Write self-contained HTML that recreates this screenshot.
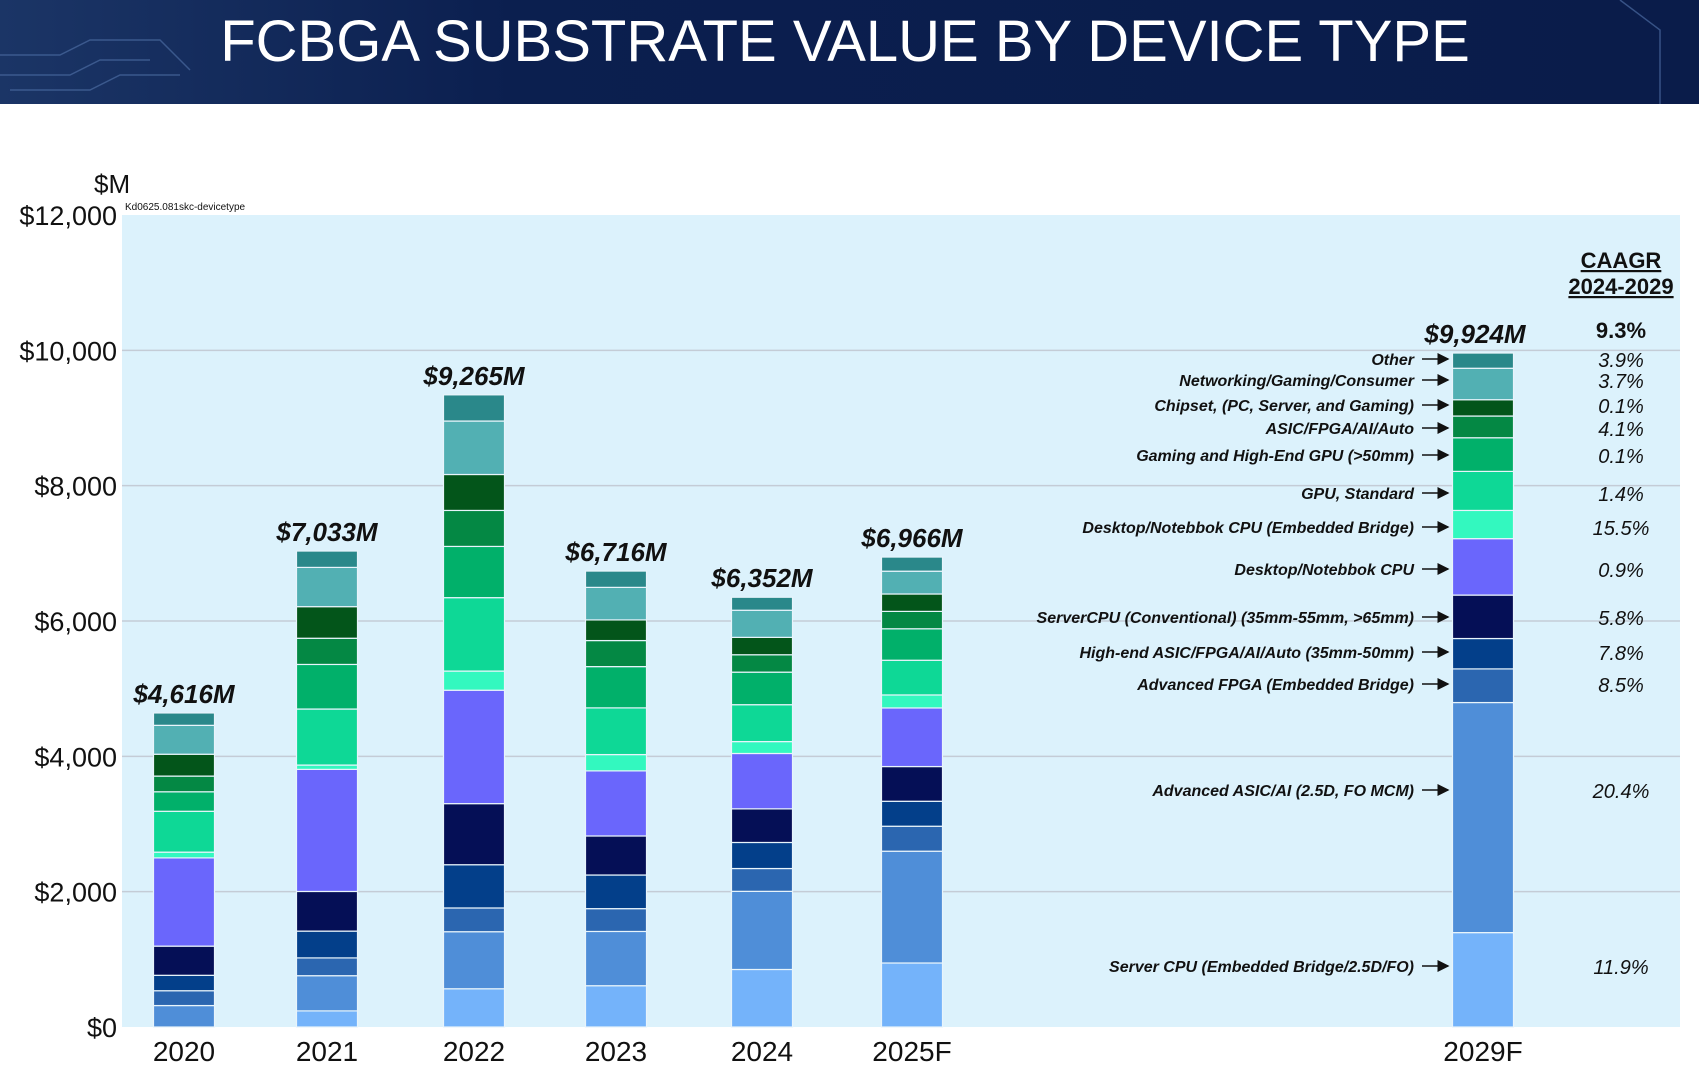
<!DOCTYPE html>
<html><head><meta charset="utf-8"><style>
html,body{margin:0;padding:0;background:#fff}
svg{display:block;font-family:"Liberation Sans",sans-serif}
</style></head><body>
<svg id="chart" width="1699" height="1085" viewBox="0 0 1699 1085">
<defs>
<linearGradient id="hdr" x1="0" x2="1" y1="0" y2="0"><stop offset="0" stop-color="#1b3566"/><stop offset="0.3" stop-color="#0b1f4f"/><stop offset="1" stop-color="#0a1c4a"/></linearGradient>
<marker id="arr" markerWidth="8" markerHeight="8" refX="7" refY="4" orient="auto"><path d="M0,0 L8,4 L0,8 z" fill="#111"/></marker>
</defs>
<rect x="0" y="0" width="1699" height="104" fill="url(#hdr)"/>
<g stroke="#4a6aa0" stroke-width="1.5" fill="none" opacity="0.7">
<path d="M0,55 H60 L90,40 H160 L190,70"/><path d="M0,75 H70 L100,60 H150"/><path d="M10,90 H90 L120,75 H180"/><path d="M1620,0 L1660,30 V104"/>
</g>
<text x="845" y="61" font-size="58" fill="#fff" text-anchor="middle">FCBGA SUBSTRATE VALUE BY DEVICE TYPE</text>
<rect x="122" y="215" width="1558" height="812" fill="#dcf2fc"/>
<g id="grid"></g>
<g id="bars"></g>
<g id="labels"></g>
<text x="94" y="193" font-size="26" fill="#111">$M</text>
<text x="125" y="210" font-size="10" fill="#111">Kd0625.081skc-devicetype</text>
<text x="1621" y="268" font-size="22" font-weight="bold" fill="#111" text-anchor="middle" text-decoration="underline">CAAGR</text>
<text x="1621" y="294" font-size="22" font-weight="bold" fill="#111" text-anchor="middle" text-decoration="underline">2024-2029</text>
</svg>
<script>
const categories=["2020","2021","2022","2023","2024","2025F","2029F"];
const totals=["$4,616M","$7,033M","$9,265M","$6,716M","$6,352M","$6,966M","$9,924M"];
const seriesNames=["Server CPU (Embedded Bridge/2.5D/FO)","Advanced ASIC/AI (2.5D, FO MCM)","Advanced FPGA (Embedded Bridge)","High-end ASIC/FPGA/AI/Auto (35mm-50mm)","ServerCPU (Conventional) (35mm-55mm, >65mm)","Desktop/Notebbok CPU","Desktop/Notebbok CPU (Embedded Bridge)","GPU, Standard","Gaming and High-End GPU (>50mm)","ASIC/FPGA/AI/Auto","Chipset, (PC, Server, and Gaming)","Networking/Gaming/Consumer","Other"];
const colors=["#74b3fa","#4f8ed8","#2b66b0","#033f8a","#050f56","#6a66fc","#33f8bf","#0ed896","#01b06a","#048844","#03551a","#52b0b3","#2a888a"];
const serverCpuEB=[0,238,565,610,850,946,1395];
const advAsicAi=[317,520,843,802,1155,1652,3400];
const advFpgaEB=[219,263,351,337,337,369,497];
const highEndAsic=[228,396,639,497,385,369,449];
const serverCpuConv=[431,586,903,577,497,513,642];
const desktopCpu=[1304,1804,1676,962,818,866,834];
const desktopCpuEB=[85,64,283,241,176,192,417];
const gpuStandard=[604,828,1085,690,545,513,577];
const gamingGpu=[288,659,757,610,481,465,497];
const asicAuto=[232,387,532,385,257,257,321];
const chipset=[323,467,531,305,257,257,241];
const networking=[427,580,790,481,401,337,465];
const other=[183,242,387,241,192,209,225];
const series=[serverCpuEB,advAsicAi,advFpgaEB,highEndAsic,serverCpuConv,desktopCpu,desktopCpuEB,gpuStandard,gamingGpu,asicAuto,chipset,networking,other];
const cagr=["11.9%","20.4%","8.5%","7.8%","5.8%","0.9%","15.5%","1.4%","0.1%","4.1%","0.1%","3.7%","3.9%"];
const cagrTotal="9.3%";
const yTicks=[0,2000,4000,6000,8000,10000,12000];
const yTickLabels=["$0","$2,000","$4,000","$6,000","$8,000","$10,000","$12,000"];

const NS="http://www.w3.org/2000/svg";
const y0=1027, yTop=215, yMax=12000;
const yScale=v=>y0-(v/yMax)*(y0-yTop);
const xCenters=[184,327,474,616,762,912,1483];
const xScale=i=>xCenters[i];
const barW=61;
function mk(tag,attrs,parent,text){const e=document.createElementNS(NS,tag);for(const k in attrs)e.setAttribute(k,attrs[k]);if(text!==undefined)e.textContent=text;parent.appendChild(e);return e;}
const grid=document.getElementById('grid'),bars=document.getElementById('bars'),labels=document.getElementById('labels');
yTicks.forEach((t,i)=>{
  if(t>0&&t<yMax){const l=mk('line',{x1:122,x2:1680,y1:yScale(t),y2:yScale(t),stroke:'#c4ccd6','stroke-width':1.5},grid);
  
  }
  const tx=mk('text',{x:117,y:yScale(t)+10,'font-size':27,'text-anchor':'end',fill:'#111'},labels,yTickLabels[i]);
  
  
});
categories.forEach((c,i)=>{
  let cum=0;
  series.forEach((s,j)=>{
    const v=s[i]; if(v<=0)return;
    const yb=yScale(cum), yt=yScale(cum+v);
    const r=mk('rect',{x:xScale(i)-barW/2,y:yt,width:barW,height:yb-yt,fill:colors[j],stroke:'#e8f4fb','stroke-width':1.2},bars);
    
    
    cum+=v;
  });
  const tt=mk('text',{x:xScale(i)+(i==6?-8:0),y:yScale(cum)-10,'font-size':26,'font-weight':'bold','font-style':'italic','text-anchor':'middle',fill:'#111'},labels,totals[i]);
  
  
  const xl=mk('text',{x:xScale(i),y:1061,'font-size':28,'text-anchor':'middle',fill:'#111'},labels,c);
  
  
});
const last=categories.length-1;
const labelY=[966,790,684,652,617,569,527,493,455,428,405,380,359];
series.forEach((s,j)=>{
  const mid=labelY[j];
  const lt=mk('text',{x:1414,y:mid+6,'font-size':16,'font-weight':'bold','font-style':'italic','text-anchor':'end',fill:'#111'},labels,seriesNames[j]);
  
  
  const ar=mk('line',{x1:1422,x2:1448,y1:mid,y2:mid,stroke:'#111','stroke-width':1.5,'marker-end':'url(#arr)'},labels);
  
  
  const ct=mk('text',{x:1621,y:mid+8,'font-size':20,'font-style':'italic','text-anchor':'middle',fill:'#111'},labels,cagr[j]);
  
  
});
const tc=mk('text',{x:1621,y:338,'font-size':22,'font-weight':'bold','text-anchor':'middle',fill:'#111'},labels,cagrTotal);


</script>
</body></html>
